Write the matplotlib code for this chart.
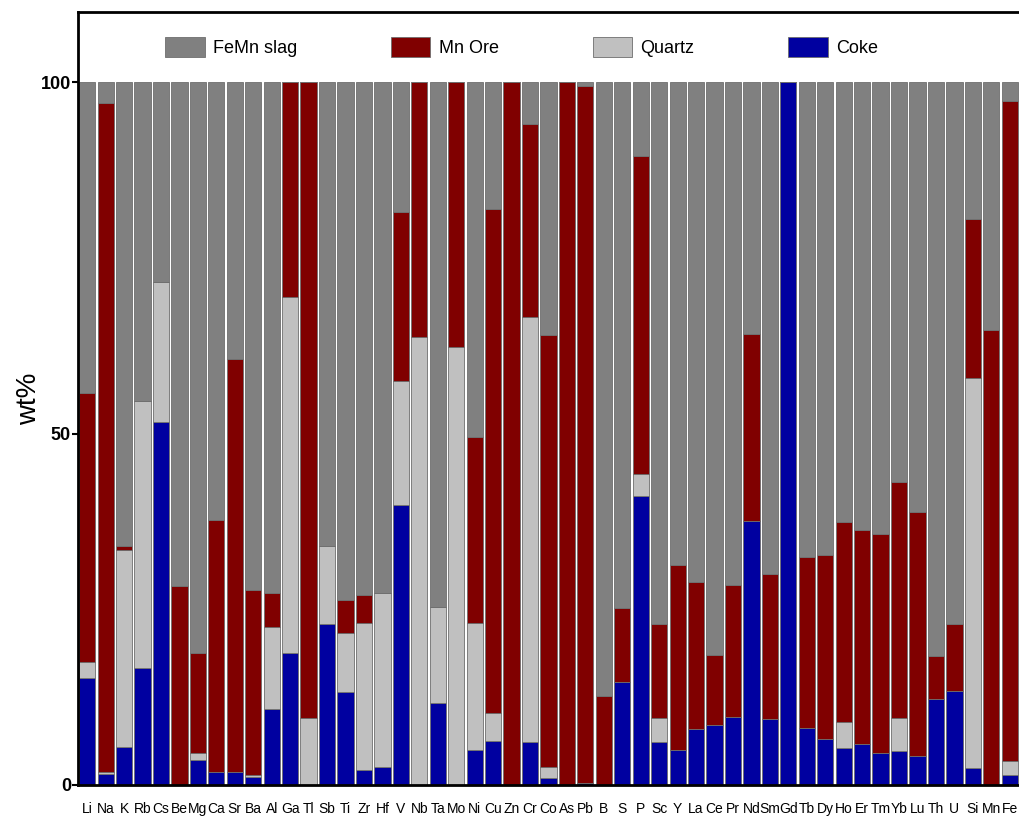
import numpy as np
import matplotlib.pyplot as plt

plt.rcParams['font.family'] = ['Liberation Sans', 'DejaVu Sans']

# Element labels along the x axis
elements = ['Li', 'Na', 'K', 'Rb', 'Cs', 'Be', 'Mg', 'Ca', 'Sr', 'Ba', 'Al', 'Ga', 'Tl',
            'Sb', 'Ti', 'Zr', 'Hf', 'V', 'Nb', 'Ta', 'Mo', 'Ni', 'Cu', 'Zn', 'Cr', 'Co',
            'As', 'Pb', 'B', 'S', 'P', 'Sc', 'Y', 'La', 'Ce', 'Pr', 'Nd', 'Sm', 'Gd', 'Tb',
            'Dy', 'Ho', 'Er', 'Tm', 'Yb', 'Lu', 'Th', 'U', 'Si', 'Mn', 'Fe']

# wt% contributed by each input
coke = [15.2, 1.6, 5.4, 16.7, 51.7, 0, 3.5, 1.9, 1.9, 1.2, 10.8, 18.8, 0,
        22.9, 13.2, 2.1, 2.6, 39.8, 0, 11.7, 0, 5.0, 6.3, 0, 6.1, 1.0,
        0, 0.3, 0, 14.6, 41.1, 6.1, 5.0, 7.9, 8.5, 9.7, 37.6, 9.4, 100, 8.1,
        6.5, 5.3, 5.9, 4.6, 4.8, 4.1, 12.3, 13.4, 2.4, 0, 1.4]
quartz = [2.3, 0.3, 28.0, 38.0, 19.9, 0, 1.0, 0, 0, 0.2, 11.7, 50.6, 9.6,
          11.1, 8.5, 20.9, 24.8, 17.7, 63.7, 13.6, 62.3, 18.0, 3.9, 0, 60.5, 1.5,
          0, 0, 0, 0, 3.2, 3.4, 0, 0, 0, 0, 0, 0, 0, 0,
          0, 3.7, 0, 0, 4.8, 0, 0, 0, 55.6, 0, 2.0]
mn_ore = [38.3, 95.2, 0.6, 0, 0, 28.3, 14.3, 35.8, 58.7, 26.4, 4.9, 30.6, 90.4,
          0, 4.6, 4.1, 0, 24.1, 36.3, 0, 37.7, 26.6, 71.8, 100, 27.5, 61.6,
          100, 99.2, 12.6, 10.6, 45.3, 13.4, 26.3, 21.0, 10.0, 18.8, 26.6, 20.6, 0, 24.4,
          26.3, 28.5, 30.4, 31.1, 33.6, 34.7, 6.0, 9.5, 22.5, 64.8, 93.9]
femn_slag = [44.2, 2.9, 66.0, 45.3, 28.4, 71.7, 81.2, 62.3, 39.4, 72.2, 72.6, 0, 0,
             66.0, 73.7, 72.9, 72.6, 18.4, 0, 74.7, 0, 50.4, 18.0, 0, 5.9, 35.9,
             0, 0.5, 87.4, 74.8, 10.4, 77.1, 68.7, 71.1, 81.5, 71.5, 35.8, 70.0, 0, 67.5,
             67.2, 62.5, 63.7, 64.3, 56.8, 61.2, 81.7, 77.1, 19.5, 35.2, 2.7]

fig = plt.figure(figsize=(10.19, 8.16), dpi=100)
ax = fig.add_axes([0.0765, 0.038, 0.9235, 0.947])

x = np.arange(len(elements))
edge = dict(width=0.88, edgecolor='#6e6e6e', linewidth=0.6)
b1 = np.array(coke)
b2 = b1 + np.array(quartz)
b3 = b2 + np.array(mn_ore)

h_coke = ax.bar(x, coke, color='#0000a0', **edge)
h_quartz = ax.bar(x, quartz, bottom=b1, color='#c0c0c0', **edge)
h_ore = ax.bar(x, mn_ore, bottom=b2, color='#800000', **edge)
h_slag = ax.bar(x, femn_slag, bottom=b3, color='#808080', **edge)

ax.set_xlim(-0.5, len(elements) - 0.5)
ax.set_ylim(0, 110)
ax.set_yticks([0, 50, 100])
ax.set_yticklabels(['0', '50', '100'], fontweight='bold', fontsize=13)
ax.set_xticks(x)
ax.set_xticklabels(elements, fontsize=10)
ax.tick_params(axis='x', length=0, pad=12)
ax.tick_params(axis='y', length=4, width=1.5, direction='out', pad=1)
ax.set_ylabel('wt%', fontsize=20, labelpad=-1)

for side in ['left', 'top', 'bottom']:
    ax.spines[side].set_linewidth(2)
ax.spines['right'].set_visible(False)

ax.legend([h_slag, h_ore, h_quartz, h_coke], ['FeMn slag', 'Mn Ore', 'Quartz', 'Coke'],
          ncol=4, loc='center left', bbox_to_anchor=(0.075, 0.955), frameon=False,
          fontsize=13, handlelength=2.2, handleheight=1.3, handletextpad=0.45,
          columnspacing=5.2)

fig.savefig('out.png', dpi=100)
